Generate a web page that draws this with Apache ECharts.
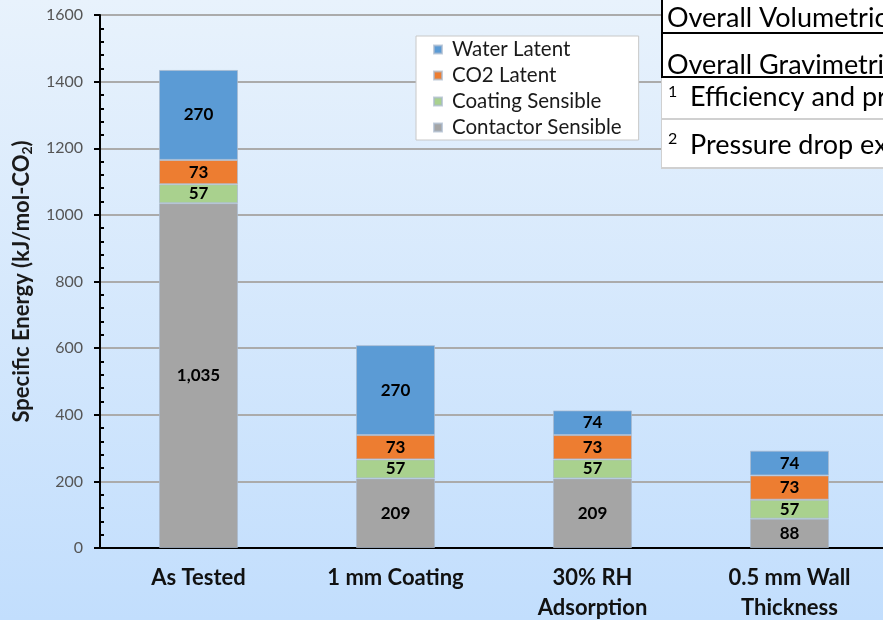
<!DOCTYPE html>
<html>
<head>
<meta charset="utf-8">
<script src="https://cdn.jsdelivr.net/npm/echarts@6/dist/echarts.min.js"></script>
<style>
  html, body { margin: 0; padding: 0; }
  #chart { width: 883px; height: 620px; }
</style>
</head>
<body>
<div id="chart"></div>
<script>
// Specific energy breakdown per design case (kJ/mol-CO2)
const categories = ['As Tested', '1 mm Coating', '30% RH\nAdsorption', '0.5 mm Wall\nThickness'];
const contactorSensible = [1035, 209, 209, 88];
const coatingSensible = [57, 57, 57, 57];
const co2Latent = [73, 73, 73, 73];
const waterLatent = [270, 270, 74, 74];

const yTicks = { min: 0, max: 1600, interval: 200 };

const FONT = 'Lato, "Open Sans", sans-serif';

const labelStyle = {
  show: true,
  position: 'inside',
  color: '#000',
  fontFamily: FONT,
  fontWeight: 'bold',
  fontSize: 17,
  formatter: p => p.value.toLocaleString('en-US')
};

function stackSeries(name, data, color) {
  return {
    name, type: 'bar', stack: 'energy', data,
    barWidth: 79,
    itemStyle: { color, borderColor: 'rgba(170,185,205,0.7)', borderWidth: 1 },
    label: labelStyle,
    emphasis: { disabled: true }
  };
}

// Side table partly covering the upper-right of the plot (absolute canvas coordinates)
const TX = 661;
const cellText = (x, y, text, size) => ({
  type: 'text', x: TX + x, y, z: 101,
  style: { text, font: size + 'px ' + FONT, fill: '#000', verticalAlign: 'middle', textVerticalAlign: 'middle' }
});
const hLine = (y, color, w) => ({
  type: 'line', z: 101, shape: { x1: TX, y1: y, x2: 900, y2: y }, style: { stroke: color, lineWidth: w }
});
const tableCells = [
  { type: 'rect', z: 100, shape: { x: TX, y: 0, width: 240, height: 169 }, style: { fill: '#fff' } },
  hLine(119, '#d0d0d0', 2),
  hLine(168, '#d0d0d0', 2),
  { type: 'line', z: 101, shape: { x1: TX + 0.5, y1: 77, x2: TX + 0.5, y2: 169 }, style: { stroke: '#d0d0d0', lineWidth: 1 } },
  hLine(33, '#000', 2),
  hLine(77, '#000', 2),
  { type: 'line', z: 101, shape: { x1: TX + 1, y1: 0, x2: TX + 1, y2: 78 }, style: { stroke: '#000', lineWidth: 2 } },
  cellText(6, 18, 'Overall Volumetric Efficiency', 27),
  cellText(6, 65, 'Overall Gravimetric Efficiency', 27),
  cellText(7, 92, '1', 16),
  cellText(29, 97, 'Efficiency and pressure drop', 27),
  cellText(7, 139, '2', 16),
  cellText(29, 145, 'Pressure drop example', 27)
];

const chart = echarts.init(document.getElementById('chart'), null, { renderer: 'canvas' });

chart.setOption({
  animation: false,
  backgroundColor: {
    type: 'linear', x: 0, y: 0, x2: 0, y2: 1,
    colorStops: [
      { offset: 0, color: '#e8f2fc' },
      { offset: 1, color: '#c2defd' }
    ]
  },
  grid: { left: 100, right: -5, top: 15, bottom: 72, containLabel: false, outerBoundsMode: 'none' },
  legend: {
    orient: 'vertical',
    left: 416, top: 36,
    data: ['Water Latent', 'CO2 Latent', 'Coating Sensible', 'Contactor Sensible'],
    backgroundColor: '#fff',
    borderColor: '#c8c8c8',
    borderWidth: 1,
    padding: [3, 17, 2, 17],
    itemWidth: 8, itemHeight: 8, itemGap: 5,
    icon: 'rect',
    textStyle: { fontFamily: FONT, fontSize: 20.5, color: '#1a1a1a', lineHeight: 20, padding: [0, 0, 0, 5] }
  },
  xAxis: [{
    type: 'category',
    data: categories,
    axisLine: { lineStyle: { color: '#000', width: 2 } },
    axisTick: { show: false },
    axisLabel: {
      color: '#111', fontFamily: FONT, fontWeight: 'bold', fontSize: 22,
      margin: 15, lineHeight: 30, interval: 0
    }
  }, {
    type: 'category',
    data: categories,
    position: 'top',
    axisLine: { lineStyle: { color: '#000', width: 2 } },
    axisTick: { show: false },
    axisLabel: { show: false }
  }],
  yAxis: [{
    type: 'value',
    min: yTicks.min, max: yTicks.max, interval: yTicks.interval,
    name: 'Specific Energy (kJ/mol-CO{sub|2})',
    nameLocation: 'middle',
    nameGap: 60,
    nameTextStyle: {
      color: '#1a1a1a', fontFamily: FONT, fontWeight: 'bold', fontSize: 22, lineHeight: 26,
      rich: {
        sub: { fontFamily: FONT, fontWeight: 'bold', fontSize: 14, verticalAlign: 'bottom', lineHeight: 26, padding: [8, 0, 0, 0] }
      }
    },
    axisLine: { show: true, lineStyle: { color: '#000', width: 2 } },
    axisTick: { show: true, length: 6, lineStyle: { color: '#000', width: 2 } },
    axisLabel: { color: '#555', fontFamily: FONT, fontSize: 16, margin: 17, formatter: v => String(v) },
    splitLine: { show: true, lineStyle: { color: '#ababab', width: 2 } }
  }, {
    type: 'value',
    min: yTicks.min, max: yTicks.max, interval: yTicks.interval,
    position: 'left',
    axisLine: { show: false },
    axisTick: { show: false, inside: true },
    minorTick: { show: true, splitNumber: 5, length: 4, lineStyle: { color: '#000', width: 2 } },
    axisLabel: { show: false },
    splitLine: { show: false }
  }],
  series: [
    stackSeries('Contactor Sensible', contactorSensible, '#a5a5a5'),
    stackSeries('Coating Sensible', coatingSensible, '#a9d18e'),
    stackSeries('CO2 Latent', co2Latent, '#ed7d31'),
    stackSeries('Water Latent', waterLatent, '#5b9bd5')
  ],
  graphic: tableCells
});
</script>
</body>
</html>
